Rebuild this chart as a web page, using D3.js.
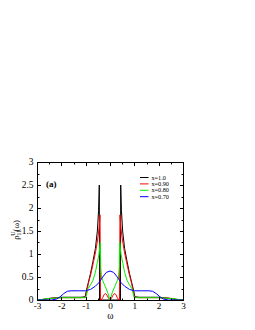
<!DOCTYPE html>
<html>
<head>
<meta charset="utf-8">
<script src="https://cdn.jsdelivr.net/npm/d3@7"></script>
<style>
  body { margin: 0; background: #fff; }
  svg { display: block; font-family: "Liberation Serif", "DejaVu Serif", serif; }
</style>
</head>
<body>
<svg width="255" height="330"></svg>
<script>
// x = 1.0
const omegaBlack = [-3, -2.8, -2.6, -2.4, -2.2, -2.0, -1.6, -1.2, -1.02, -0.98, -0.9, -0.8, -0.7, -0.6, -0.52, -0.47, -0.44, -0.43,
  0.43, 0.44, 0.47, 0.52, 0.6, 0.7, 0.8, 0.9, 0.98, 1.02, 1.2, 1.6, 2.0, 2.2, 2.4, 2.6, 2.8, 3];
const rhoBlack = [0, 0, 0.02, 0.04, 0.05, 0.06, 0.06, 0.06, 0.07, 0.18, 0.36, 0.58, 0.84, 1.12, 1.5, 1.95, 2.5, 0,
  0, 2.5, 1.95, 1.5, 1.12, 0.84, 0.58, 0.36, 0.18, 0.07, 0.06, 0.06, 0.06, 0.05, 0.04, 0.02, 0, 0];

// x = 0.90
const omegaRed = [-3, -2.8, -2.6, -2.4, -2.0, -1.6, -1.2, -1.0, -0.96, -0.88, -0.78, -0.68, -0.58, -0.5, -0.44, -0.41, -0.39, -0.36,
  -0.3, -0.24, -0.18, -0.12, -0.06, 0, 0.06, 0.12, 0.18, 0.24, 0.3,
  0.36, 0.39, 0.41, 0.44, 0.5, 0.58, 0.68, 0.78, 0.88, 0.96, 1.0, 1.2, 1.6, 2.0, 2.4, 2.6, 2.8, 3];
const rhoRed = [0, 0.01, 0.03, 0.04, 0.05, 0.05, 0.05, 0.06, 0.18, 0.38, 0.58, 0.82, 1.08, 1.35, 1.6, 1.85, 0, 0,
  0.05, 0.12, 0.14, 0.1, 0.04, 0, 0.04, 0.1, 0.14, 0.12, 0.05,
  0, 0, 1.85, 1.6, 1.35, 1.08, 0.82, 0.58, 0.38, 0.18, 0.06, 0.05, 0.05, 0.05, 0.04, 0.03, 0.01, 0];

// x = 0.80
const omegaGreen = [-3, -2.8, -2.6, -2.3, -2.0, -1.6, -1.2, -1.0, -0.97, -0.9, -0.8, -0.7, -0.6, -0.52, -0.45, -0.4, -0.38, -0.35,
  -0.3, -0.2, -0.1, -0.03, 0, 0.03, 0.1, 0.2, 0.3,
  0.35, 0.38, 0.4, 0.45, 0.52, 0.6, 0.7, 0.8, 0.9, 0.97, 1.0, 1.2, 1.6, 2.0, 2.3, 2.6, 2.8, 3];
const rhoGreen = [0, 0.01, 0.03, 0.04, 0.05, 0.05, 0.05, 0.05, 0.1, 0.25, 0.33, 0.43, 0.6, 0.82, 1.0, 1.25, 0.7, 0.5,
  0.42, 0.3, 0.17, 0.05, 0, 0.05, 0.17, 0.3, 0.42,
  0.5, 0.7, 1.25, 1.0, 0.82, 0.6, 0.43, 0.33, 0.25, 0.1, 0.05, 0.05, 0.05, 0.05, 0.04, 0.03, 0.01, 0];

// x = 0.70
const omegaBlue = [-3, -2.4, -2.2, -2.05, -1.9, -1.75, -1.6, -1.3, -1.0, -0.8, -0.6, -0.45, -0.3, -0.15, 0,
  0.15, 0.3, 0.45, 0.6, 0.8, 1.0, 1.3, 1.6, 1.75, 1.9, 2.05, 2.2, 2.4, 3];
const rhoBlue = [0, 0, 0.02, 0.07, 0.14, 0.19, 0.2, 0.2, 0.2, 0.23, 0.3, 0.38, 0.5, 0.6, 0.63,
  0.6, 0.5, 0.38, 0.3, 0.23, 0.2, 0.2, 0.2, 0.19, 0.14, 0.07, 0.02, 0, 0];

const seriesNames = ["x=1.0", "x=0.90", "x=0.80", "x=0.70"];
const seriesColors = ["#000000", "#ff0000", "#00ee00", "#0000ff"];
const xTicks = [-3, -2, -1, 0, 1, 2, 3];
const yTicks = [0, 0.5, 1, 1.5, 2, 2.5, 3];

const series = [
  { omega: omegaBlack, rho: rhoBlack },
  { omega: omegaRed, rho: rhoRed },
  { omega: omegaGreen, rho: rhoGreen },
  { omega: omegaBlue, rho: rhoBlue }
];

const svg = d3.select("svg");
const pLeft = 37, pRight = 183, pTop = 162, pBottom = 300;

const x = d3.scaleLinear().domain([-3, 3]).range([pLeft, pRight]);
const y = d3.scaleLinear().domain([0, 3]).range([pBottom, pTop]);

// curves
const line = d3.line()
  .x(function (d) { return x(d[0]); })
  .y(function (d) { return y(d[1]); });

const plot = svg.append("g").attr("class", "curves");
series.forEach(function (s, i) {
  plot.append("path")
    .datum(d3.zip(s.omega, s.rho))
    .attr("d", line)
    .attr("fill", "none")
    .attr("stroke", seriesColors[i])
    .attr("stroke-width", 1);
});

// frame
svg.append("rect")
  .attr("x", pLeft + 0.5).attr("y", pTop + 0.5)
  .attr("width", pRight - pLeft).attr("height", pBottom - pTop)
  .attr("fill", "none").attr("stroke", "#000").attr("stroke-width", 1);

// ticks, inward on all four sides
const xMinor = d3.range(-2.5, 3, 1);
const yMinor = d3.range(0.25, 3, 0.5);
const ticks = svg.append("g").attr("stroke", "#000").attr("stroke-width", 1);
function xTick(v, len) {
  const px = Math.round(x(v)) + 0.5;
  ticks.append("line").attr("x1", px).attr("x2", px).attr("y1", pBottom).attr("y2", pBottom - len);
  ticks.append("line").attr("x1", px).attr("x2", px).attr("y1", pTop + 1).attr("y2", pTop + 1 + len);
}
function yTick(v, len) {
  const py = Math.round(y(v)) + 0.5;
  ticks.append("line").attr("x1", pLeft + 1).attr("x2", pLeft + 1 + len).attr("y1", py).attr("y2", py);
  ticks.append("line").attr("x1", pRight).attr("x2", pRight - len).attr("y1", py).attr("y2", py);
}
xTicks.slice(1, -1).forEach(function (v) { xTick(v, 3); });
xMinor.forEach(function (v) { xTick(v, 1.5); });
yTicks.slice(1, -1).forEach(function (v) { yTick(v, 3); });
yMinor.forEach(function (v) { yTick(v, 1.5); });

// tick labels
svg.append("g").selectAll("text")
  .data(xTicks)
  .join("text")
  .attr("x", function (d) { return x(d) + 0.5; })
  .attr("y", pBottom + 9.3)
  .attr("text-anchor", "middle")
  .attr("font-size", "9.2px")
  .text(function (d) { return d < 0 ? "-" + Math.abs(d) : d; });

svg.append("g").selectAll("text")
  .data(yTicks)
  .join("text")
  .attr("x", pLeft - 3.5)
  .attr("y", function (d) { return y(d) + 2.6; })
  .attr("text-anchor", "end")
  .attr("font-size", "9.5px")
  .text(function (d) { return d; });

// axis titles
svg.append("text")
  .attr("x", x(0) + 0.5)
  .attr("y", 319)
  .attr("text-anchor", "middle")
  .attr("font-size", "9.5px")
  .text("ω");

const yl = svg.append("text")
  .attr("transform", "translate(19,230) rotate(-90)")
  .attr("text-anchor", "middle")
  .attr("font-size", "8.5px");
yl.append("tspan").text("ρ");
yl.append("tspan").attr("font-size", "6px").attr("dy", 2).text("11");
yl.append("tspan").attr("font-size", "6px").attr("dx", -6).attr("dy", -6).text("U");
yl.append("tspan").attr("dy", 4).text("(ω)");

svg.append("text")
  .attr("x", 46)
  .attr("y", 187)
  .attr("font-size", "9px")
  .attr("font-weight", "bold")
  .text("(a)");

// legend
const legend = svg.append("g").selectAll("g")
  .data(seriesNames)
  .join("g")
  .attr("transform", function (d, i) { return "translate(140," + (177.5 + i * 6.4) + ")"; });
legend.append("line")
  .attr("x1", 0).attr("x2", 8.5).attr("y1", 0).attr("y2", 0)
  .attr("stroke", function (d, i) { return seriesColors[i]; })
  .attr("stroke-width", 1);
legend.append("text")
  .attr("x", 11.5)
  .attr("y", 2.1)
  .attr("font-size", "6.2px")
  .text(function (d) { return d; });
</script>
</body>
</html>
